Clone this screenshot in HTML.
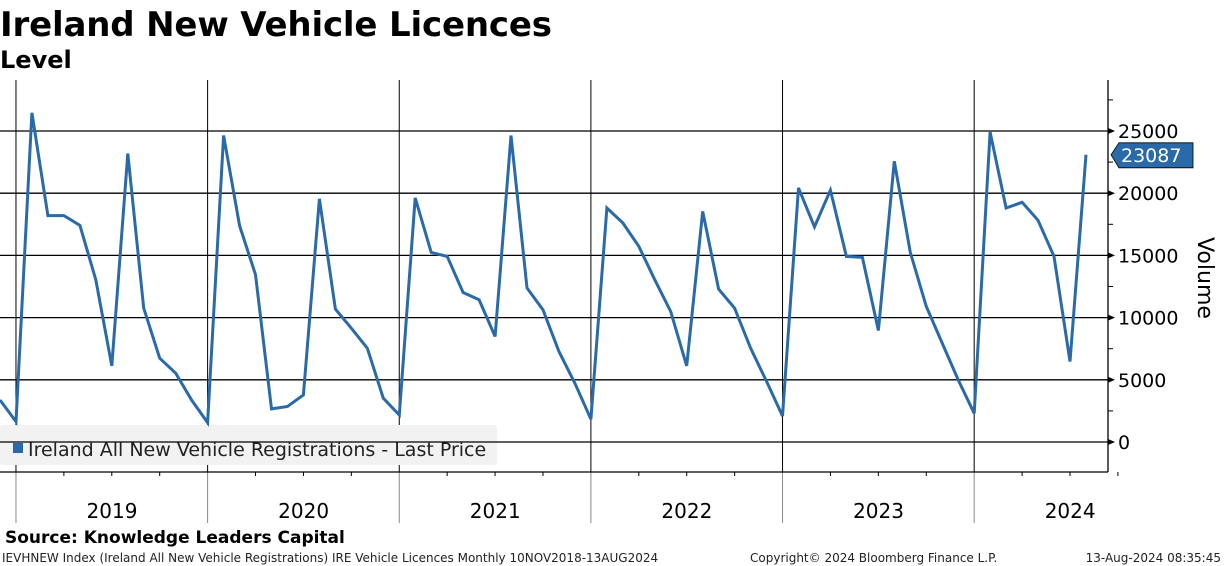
<!DOCTYPE html>
<html><head><meta charset="utf-8"><style>
body{margin:0;background:#fff;width:1224px;height:566px;overflow:hidden;font-family:"DejaVu Sans","Liberation Sans",sans-serif}
svg{position:absolute;left:0;top:0}
</style></head><body>
<svg width="1224" height="566" viewBox="0 0 1224 566">
<text x="0" y="36" font-size="34" font-weight="bold" font-family="DejaVu Sans, sans-serif" textLength="552">Ireland New Vehicle Licences</text>
<text x="0" y="68" font-size="24" font-weight="bold" font-family="DejaVu Sans, sans-serif">Level</text>
<g id="grid"></g>
<rect x="0" y="425" width="497" height="40" rx="3" fill="#f2f2f2"/>
<g id="gridover"></g>
<rect x="13" y="443" width="10" height="10" fill="#2a6aa8"/>
<text x="28" y="456" font-size="19" fill="#222">Ireland All New Vehicle Registrations - Last Price</text>
<g id="series"></g>
<g id="axis"></g>
<text transform="translate(1198,278) rotate(90)" text-anchor="middle" font-size="22">Volume</text>
<text x="5" y="543" font-size="17" font-weight="bold">Source: Knowledge Leaders Capital</text>
<text x="2" y="562" font-size="12" fill="#222">IEVHNEW Index (Ireland All New Vehicle Registrations) IRE Vehicle Licences  Monthly 10NOV2018-13AUG2024</text>
<text x="750" y="562" font-size="12" fill="#222">Copyright© 2024 Bloomberg Finance L.P.</text>
<text x="1221" y="562" font-size="12" fill="#222" text-anchor="end">13-Aug-2024 08:35:45</text>
</svg>
<script>
const years=["2019","2020","2021","2022","2023","2024"];
const yTicks=[0,5000,10000,15000,20000,25000];
const values=[3380,1640,26460,18200,18200,17420,13040,6120,23190,10760,6740,5530,3380,1560,24640,17390,13450,2660,2850,3780,19540,10680,9150,7540,3520,2170,19620,15240,14920,12020,11430,8480,24640,12380,10630,7270,4720,1830,18810,17610,15730,13040,10490,6120,18540,12290,10760,7540,4860,2090,20430,17290,20240,14920,14840,8960,22570,15240,10890,7950,4990,2310,24910,18810,19270,17820,14920,6470,23087];
const lastLabel="23087";
const NS="http://www.w3.org/2000/svg";
const X0=0,STEP=15.97,LEFT=0,RIGHT=1108,TOP=80,BOT=472;
const yS=v=>442-v*(311/25000);
const xS=i=>X0+i*STEP;
function mk(tag,at,parent){const e=document.createElementNS(NS,tag);for(const k in at)e.setAttribute(k,at[k]);document.getElementById(parent).appendChild(e);return e;}
yTicks.forEach(v=>{const l=mk('line',{x1:LEFT,x2:RIGHT,y1:yS(v),y2:yS(v),stroke:'#000','stroke-width':1.3},'gridover');

});
years.forEach((y,i)=>{const xx=xS(1+12*i);
const l=mk('line',{x1:xx,x2:xx,y1:TOP,y2:BOT,stroke:'#000','stroke-width':1},'grid');


const l2=mk('line',{x1:xx,x2:xx,y1:BOT,y2:523,stroke:'#888','stroke-width':1},'axis');


const t=mk('text',{x:xx+96,y:518,'text-anchor':'middle','font-size':20},'axis');t.textContent=y;


for(let q=1;q<4;q++){const mx=xx+q*3*STEP;const m=mk('line',{x1:mx,x2:mx,y1:BOT,y2:BOT+4,stroke:'#000'},'axis');

}
});
let a=mk('line',{x1:0,x2:RIGHT,y1:BOT,y2:BOT,stroke:'#000','stroke-width':1.3},'axis');


a=mk('line',{x1:RIGHT,x2:RIGHT,y1:TOP,y2:BOT,stroke:'#000','stroke-width':1.3},'axis');


for(let v=0;v<=27500;v+=2500){const yy=yS(v);
const t=mk('line',{x1:RIGHT,x2:RIGHT+5,y1:yy,y2:yy,stroke:'#000'},'axis');

}
yTicks.forEach(v=>{const yy=yS(v);
const p=mk('polygon',{points:`${RIGHT},${yy-3} ${RIGHT+7},${yy} ${RIGHT},${yy+3}`,fill:'#000'},'axis');


const t=mk('text',{x:RIGHT+10,y:yy+7,'font-size':19},'axis');t.textContent=v;

});
const pts=values.map((v,i)=>xS(i).toFixed(1)+','+yS(v).toFixed(1)).join(' ');
const pl=mk('polyline',{points:pts,fill:'none',stroke:'#2a6aa8','stroke-width':3,'stroke-linejoin':'miter'},'series');


const ly=yS(values[values.length-1]);
const tag=mk('polygon',{points:`${RIGHT+3},${ly} ${RIGHT+11},${ly-12} ${RIGHT+85},${ly-12} ${RIGHT+85},${ly+13} ${RIGHT+11},${ly+13}`,fill:'#2a6aa8',stroke:'#000','stroke-width':0.8},'axis');


const tt=mk('text',{x:RIGHT+13,y:ly+7,'font-size':19,fill:'#fff'},'axis');tt.textContent=lastLabel;


</script>
</body></html>
